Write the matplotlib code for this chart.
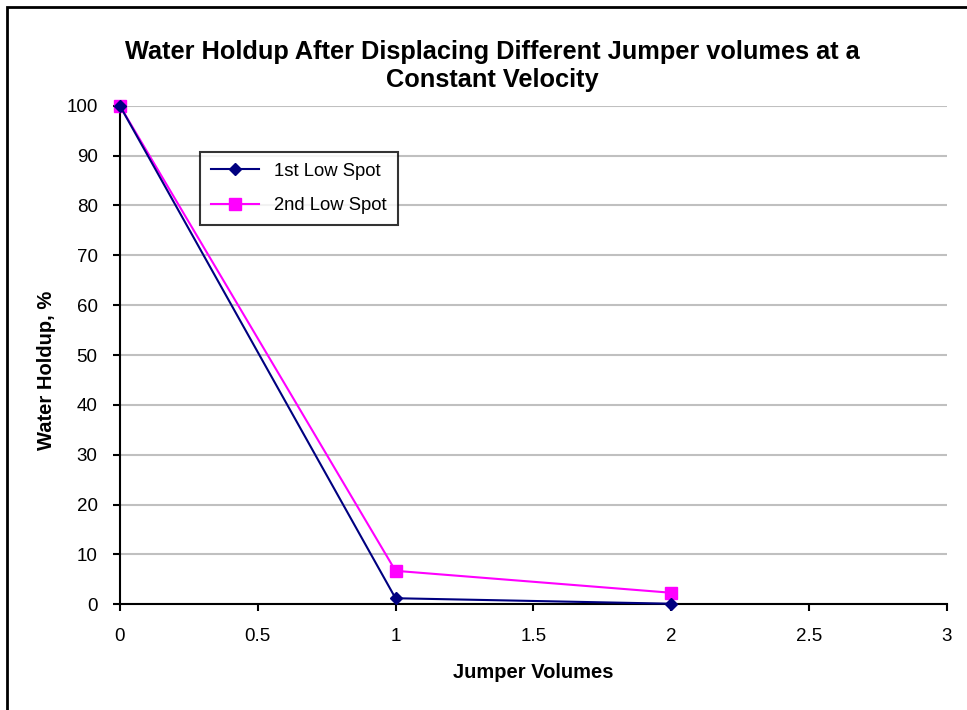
import matplotlib.pyplot as plt
from matplotlib.patches import Rectangle

plt.rcParams['font.family'] = ['Liberation Sans', 'DejaVu Sans']

# Datos
jumper_volumes = [0, 1, 2]
low_spot_1 = [100, 1.2, 0.1]
low_spot_2 = [100, 6.7, 2.3]
x_ticks = [0, 0.5, 1, 1.5, 2, 2.5, 3]
x_tick_labels = ['0', '0.5', '1', '1.5', '2', '2.5', '3']
y_ticks = list(range(0, 101, 10))

fig = plt.figure(figsize=(9.67, 7.10), dpi=100)
ax = fig.add_axes([0.124, 0.149, 0.855, 0.702])

ax.plot(jumper_volumes, low_spot_1, color='#000080', marker='D', markersize=6,
        linewidth=1.5, label='1st Low Spot', clip_on=False, zorder=4)
ax.plot(jumper_volumes, low_spot_2, color='#ff00ff', marker='s', markersize=9,
        linewidth=1.5, label='2nd Low Spot', clip_on=False, zorder=3)

ax.set_xlim(0, 3)
ax.set_ylim(0, 100)
ax.set_xticks(x_ticks)
ax.set_xticklabels(x_tick_labels)
ax.set_yticks(y_ticks)
ax.yaxis.grid(True, color='#c0c0c0', linewidth=1.5)
ax.set_axisbelow(True)
for s in ['top', 'right']:
    ax.spines[s].set_visible(False)
for s in ['left', 'bottom']:
    ax.spines[s].set_linewidth(1.5)
ax.tick_params(axis='both', direction='out', length=5, width=1.5, labelsize=13.5)
ax.tick_params(axis='x', pad=12)
ax.tick_params(axis='y', pad=11)

ax.set_xlabel('Jumper Volumes', fontsize=14.5, fontweight='bold', labelpad=13)
ax.set_ylabel('Water Holdup, %', fontsize=14.5, fontweight='bold')
ax.yaxis.set_label_coords(-0.077, 0.47)
fig.text(0.509, 0.907, 'Water Holdup After Displacing Different Jumper volumes at a\nConstant Velocity',
         ha='center', va='center', fontsize=18.3, fontweight='bold', linespacing=1.22)

leg = ax.legend(loc='upper left', bbox_to_anchor=(0.097, 0.908), fontsize=13.3,
                frameon=True, fancybox=False, edgecolor='black', borderpad=0.6,
                labelspacing=0.95, handlelength=2.6, borderaxespad=0)
leg.get_frame().set_linewidth(1.5)

# marco exterior
fig.patches.append(Rectangle((0.007, -0.1), 1.2, 1.09, transform=fig.transFigure,
                             fill=False, edgecolor='black', linewidth=2))

plt.savefig('out.png', dpi=100)
